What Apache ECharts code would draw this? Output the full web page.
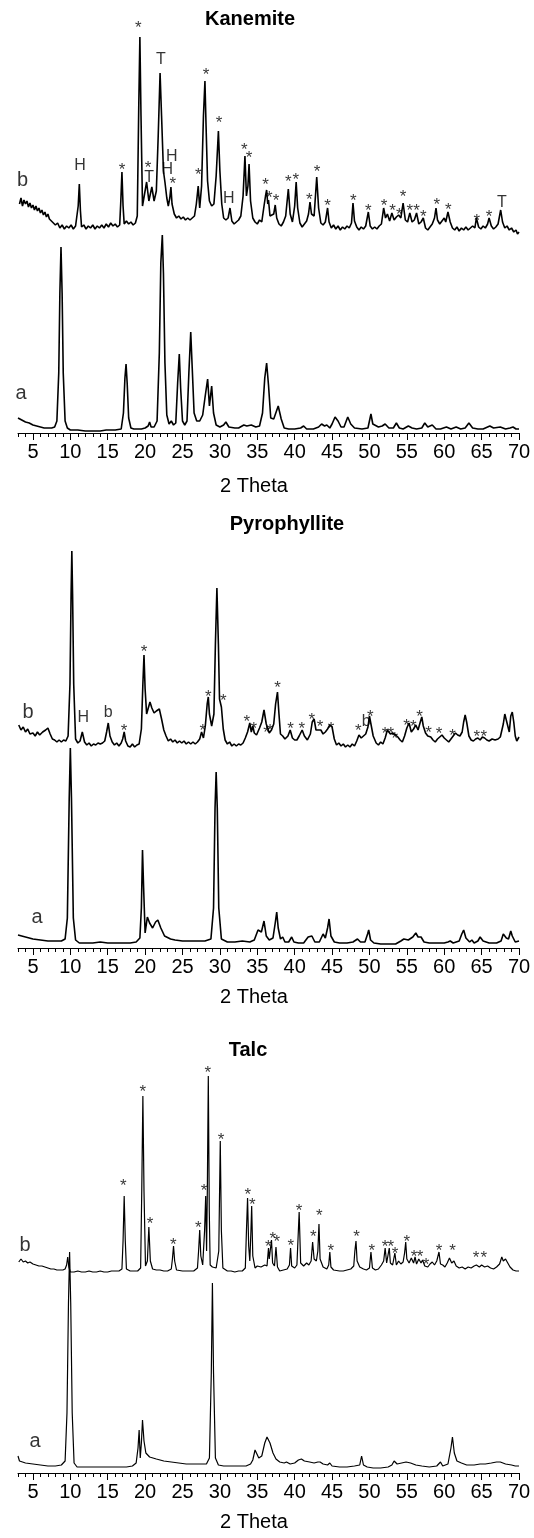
<!DOCTYPE html>
<html><head><meta charset="utf-8">
<script src="https://cdn.jsdelivr.net/npm/echarts@6/dist/echarts.min.js"></script>
<style>html,body{margin:0;padding:0;background:#fff}#c{width:534px;height:1538px}</style>
</head><body><div id="c"></div>
<script>
// 2-theta tick labels
const thetaTicks = [5,10,15,20,25,30,35,40,45,50,55,60,65,70];
const panelTitles = ['Kanemite','Pyrophyllite','Talc'];
const axisTitle = '2 Theta';

// ---------- Kanemite ----------
const kanemiteA = [[3.0,15],[3.5,13],[4,11],[4.5,10],[5,8],[5.5,7],[6,6],[6.5,5],[7,5],[7.5,5],[7.9,6],[8.2,12],[8.45,60],[8.6,140],[8.75,186],[8.9,140],[9.05,60],[9.3,12],[9.6,5],[10,3],[11,3],[12,2],[13,2],[14,2],[14.8,3],[15,5],[15.2,3],[16,3],[16.8,4],[17.1,20],[17.3,55],[17.45,69],[17.6,50],[17.8,15],[18.1,5],[18.5,4],[19,4],[19.5,4],[20,5],[20.4,7],[20.6,11],[20.8,6],[21.2,6],[21.6,12],[21.9,80],[22.1,170],[22.3,198],[22.45,160],[22.65,70],[22.9,18],[23.2,9],[23.5,12],[23.8,8],[24.1,10],[24.35,50],[24.57,79],[24.75,45],[25.0,12],[25.3,8],[25.6,12],[25.85,60],[26.1,101],[26.3,65],[26.55,20],[26.9,12],[27.3,12],[27.7,18],[28.0,35],[28.36,54],[28.6,27],[28.9,47],[29.15,20],[29.5,8],[30,6],[30.5,8],[30.8,11],[31.2,6],[32,5],[32.5,5],[33.2,8],[33.6,7],[34.2,8],[34.8,6],[35.3,7],[35.7,20],[36.0,55],[36.25,70],[36.5,48],[36.8,15],[37.2,14],[37.8,27],[38.2,14],[38.6,5],[39.2,4],[40,4],[40.8,5],[41.2,7],[41.6,4],[42.5,4],[43.2,6],[43.6,9],[44.0,7],[44.3,8],[44.7,5],[45.0,9],[45.4,16],[45.8,12],[46.2,6],[46.6,6],[47.1,16],[47.5,9],[48,5],[49,4],[49.8,5],[50.2,19],[50.45,9],[50.7,8],[51.2,6],[51.7,7],[52.1,9],[52.6,5],[53.2,5],[53.6,10],[54.0,5],[54.5,4],[55.2,7],[55.7,5],[56.3,4],[57.0,5],[57.4,10],[57.8,6],[58.4,8],[58.9,4],[59.5,4],[60.3,6],[60.9,4],[61.6,6],[62.2,4],[62.8,5],[63.3,10],[63.8,5],[64.5,4],[65.2,4],[66.1,7],[66.6,5],[67.5,6],[68.2,4],[68.8,5],[69.2,6],[69.6,4],[70,4]];
const kanemiteB = [[3.2,22],[3.4,28],[3.6,20],[3.8,26],[4.0,22],[4.2,25],[4.4,19],[4.6,23],[4.8,18],[5.0,21],[5.2,16],[5.4,20],[5.6,15],[5.8,18],[6.0,13],[6.2,16],[6.4,11],[6.6,14],[6.8,9],[7.0,12],[7.2,7],[7.4,9],[7.6,4],[7.8,6],[8.0,1],[8.3,3],[8.6,-2],[8.9,1],[9.2,-3],[9.5,0],[9.8,-2],[10.1,1],[10.4,-3],[10.7,0],[10.9,2],[11.05,20],[11.2,42],[11.35,15],[11.5,-1],[11.8,1],[12.1,-3],[12.4,0],[12.7,-2],[13.0,1],[13.3,-3],[13.6,0],[13.9,-2],[14.2,1],[14.5,-2],[14.8,2],[15.1,-1],[15.4,3],[15.7,0],[16.0,2],[16.3,-1],[16.6,1],[16.75,25],[16.9,54],[17.05,20],[17.2,2],[17.5,5],[17.8,2],[18.1,4],[18.4,1],[18.7,3],[18.95,10],[19.15,120],[19.3,189],[19.45,110],[19.65,20],[19.9,22],[20.2,44],[20.5,25],[20.9,39],[21.2,25],[21.5,35],[21.75,90],[22.0,153],[22.2,110],[22.45,55],[22.65,44],[22.9,28],[23.1,20],[23.3,28],[23.45,39],[23.6,22],[23.9,12],[24.2,8],[24.5,10],[24.8,7],[25.1,9],[25.4,6],[25.7,8],[26.0,6],[26.3,8],[26.6,10],[26.85,22],[27.1,40],[27.3,18],[27.55,40],[27.8,110],[28.0,145],[28.15,100],[28.35,45],[28.6,25],[28.9,20],[29.2,22],[29.5,50],[29.8,95],[30.0,55],[30.25,22],[30.5,8],[30.8,6],[31.1,8],[31.35,18],[31.6,5],[31.9,2],[32.2,4],[32.5,6],[32.8,10],[33.1,30],[33.35,70],[33.55,30],[33.75,40],[33.9,62],[34.1,25],[34.4,8],[34.7,4],[35.0,2],[35.3,6],[35.6,4],[35.9,20],[36.1,30],[36.25,36],[36.4,22],[36.5,26],[36.7,10],[36.9,8],[37.2,12],[37.4,21],[37.6,8],[37.9,2],[38.2,0],[38.5,4],[38.8,10],[39.15,37],[39.4,12],[39.7,4],[40.0,20],[40.2,44],[40.4,18],[40.7,3],[41.0,-1],[41.3,2],[41.6,5],[41.85,12],[42.05,24],[42.25,12],[42.6,10],[42.95,49],[43.2,18],[43.5,3],[43.8,1],[44.1,4],[44.4,18],[44.6,4],[44.9,-2],[45.2,1],[45.5,-3],[45.8,0],[46.1,-4],[46.4,-1],[46.7,-3],[47.0,0],[47.3,-2],[47.6,3],[47.8,23],[48.0,5],[48.3,-1],[48.6,-4],[48.9,-1],[49.2,-3],[49.5,0],[49.85,14],[50.1,0],[50.4,-3],[50.7,-1],[51.0,-3],[51.3,0],[51.6,2],[51.9,18],[52.15,8],[52.4,12],[52.7,5],[53.0,13],[53.3,6],[53.6,9],[53.9,11],[54.2,8],[54.5,23],[54.8,6],[55.1,4],[55.4,13],[55.7,4],[56.0,6],[56.3,13],[56.6,2],[56.9,4],[57.2,8],[57.5,-2],[57.8,-4],[58.1,-1],[58.4,2],[58.7,8],[58.9,18],[59.1,6],[59.4,2],[59.7,5],[60.0,8],[60.2,4],[60.5,14],[60.8,4],[61.1,-2],[61.4,-4],[61.7,-1],[62.0,-5],[62.3,-2],[62.6,-4],[62.9,-1],[63.2,-4],[63.5,-2],[63.8,0],[64.1,-2],[64.3,8],[64.6,-1],[64.9,-3],[65.2,0],[65.5,-2],[65.8,2],[66.0,8],[66.3,0],[66.6,-3],[66.9,-1],[67.2,2],[67.55,16],[67.8,4],[68.1,-2],[68.4,0],[68.7,-4],[69.0,-2],[69.3,-6],[69.6,-4],[69.8,-8],[70,-6]];
const kanemiteMarks = [[11.3,267,'H'],[16.9,267,'*'],[19.1,409,'*'],[20.4,269,'*'],[20.55,255,'T'],[22.1,373,'T'],[22.95,263,'H'],[23.55,276,'H'],[23.7,253,'*'],[27.1,262,'*'],[28.15,362,'*'],[29.9,314,'*'],[31.2,234,'H'],[33.25,287,'*'],[33.9,279,'*'],[36.1,252,'*'],[36.6,239,'*'],[37.5,236,'*'],[39.15,255,'*'],[40.15,257,'*'],[41.95,237,'*'],[43.0,265,'*'],[44.4,231,'*'],[47.85,236,'*'],[49.85,226,'*'],[51.95,231,'*'],[53.1,226,'*'],[54.0,222,'*'],[54.5,240,'*'],[55.4,226,'*'],[56.3,226,'*'],[57.2,220,'*'],[59.0,232,'*'],[60.55,227,'*'],[64.35,216,'*'],[66.0,220,'*'],[67.7,230,'T']];
const kanemiteTraceNames = [[3.4,38,'a'],[3.6,253,'b']];

// ---------- Pyrophyllite ----------
const pyrophylliteA = [[3,13],[3.5,12],[4,11],[5,9],[6,8],[7,7],[8,7],[8.8,7],[9.3,9],[9.6,30],[9.85,150],[10.0,200],[10.15,150],[10.4,30],[10.7,8],[11.2,5],[12,5],[13,5],[14,6],[15,5],[16,5],[17,5],[18,5],[18.8,6],[19.3,10],[19.5,40],[19.65,98],[19.8,60],[20.0,15],[20.3,31],[20.6,25],[21.0,20],[21.4,26],[21.7,28],[22.1,20],[22.6,12],[23.4,9],[24,8],[25,7],[26,7],[27,7],[28,7],[28.8,9],[29.15,40],[29.35,140],[29.5,176],[29.65,140],[29.85,40],[30.2,9],[31,6],[32,6],[33,7],[34,6],[34.6,8],[35.1,18],[35.35,20],[35.55,16],[35.9,27],[36.2,12],[36.6,8],[37.1,10],[37.4,25],[37.6,36],[37.8,20],[38.1,9],[38.4,11],[38.7,6],[39.2,6],[39.6,11],[39.9,6],[40.5,5],[41.2,5],[41.8,11],[42.05,13],[42.3,12],[42.7,6],[43.3,6],[43.8,14],[44.1,10],[44.4,20],[44.6,29],[44.85,12],[45.3,6],[46,5],[47,5],[47.8,6],[48.4,9],[48.8,6],[49.4,6],[49.75,14],[49.9,18],[50.15,8],[50.6,5],[51.5,4],[52.5,4],[53.5,4],[54.2,7],[54.6,9],[55.2,8],[55.8,11],[56.2,15],[56.5,11],[56.9,11],[57.3,6],[58,5],[59,5],[60,5],[60.5,6],[60.8,7],[61.2,5],[62.0,7],[62.35,14],[62.6,18],[62.9,10],[63.4,6],[63.7,8],[64.0,5],[64.5,7],[64.8,11],[65.2,7],[66,5],[67,5],[67.6,7],[67.9,14],[68.05,16],[68.3,10],[68.6,9],[68.9,17],[69.1,12],[69.5,6],[70,7]];
const pyrophylliteB = [[3.1,19],[3.4,14],[3.7,17],[4.0,12],[4.3,15],[4.6,10],[5.0,11],[5.3,8],[5.6,12],[5.9,9],[6.3,12],[6.7,14],[7.0,16],[7.3,10],[7.6,5],[7.9,4],[8.2,2],[8.5,4],[8.8,2],[9.1,4],[9.4,3],[9.7,8],[9.95,60],[10.1,150],[10.2,193],[10.3,150],[10.45,60],[10.7,5],[11.0,1],[11.3,3],[11.6,12],[11.9,2],[12.2,-1],[12.5,1],[12.8,-2],[13.1,0],[13.4,-1],[13.7,1],[14.0,0],[14.3,1],[14.6,3],[14.85,12],[15.07,21],[15.3,8],[15.6,2],[15.9,-1],[16.2,1],[16.5,-2],[16.8,1],[17.0,5],[17.2,12],[17.4,3],[17.7,-2],[18.0,-3],[18.3,0],[18.6,-3],[18.9,-1],[19.2,0],[19.5,15],[19.7,60],[19.85,89],[20.0,55],[20.2,30],[20.4,32],[20.65,42],[20.9,36],[21.2,31],[21.5,33],[21.9,35],[22.2,25],[22.5,14],[22.8,8],[23.1,3],[23.4,5],[23.7,2],[24.0,4],[24.3,1],[24.6,3],[24.9,1],[25.2,3],[25.5,0],[25.8,2],[26.1,0],[26.4,2],[26.7,0],[27.0,2],[27.3,5],[27.55,12],[27.8,6],[28.05,18],[28.3,40],[28.45,47],[28.6,30],[28.9,18],[29.2,30],[29.4,100],[29.6,156],[29.8,100],[29.95,45],[30.2,37],[30.45,15],[30.7,4],[31.0,0],[31.3,2],[31.6,-2],[31.9,0],[32.2,-2],[32.5,0],[32.8,-1],[33.1,1],[33.4,6],[33.7,12],[34.0,21],[34.2,12],[34.4,18],[34.6,11],[34.9,9],[35.3,16],[35.6,22],[35.9,34],[36.2,20],[36.6,11],[36.9,14],[37.2,20],[37.45,40],[37.7,52],[37.9,30],[38.1,10],[38.4,8],[38.7,5],[39.1,8],[39.4,14],[39.7,6],[40.0,4],[40.3,4],[40.6,8],[41.0,14],[41.3,8],[41.7,4],[42.1,10],[42.35,22],[42.6,25],[42.85,14],[43.1,12],[43.5,14],[43.8,10],[44.1,12],[44.4,15],[44.7,19],[45.0,17],[45.3,5],[45.6,-1],[45.9,1],[46.2,-2],[46.5,0],[46.8,-3],[47.1,-1],[47.4,-3],[47.7,0],[48.0,-2],[48.3,3],[48.6,9],[48.9,6],[49.2,8],[49.5,10],[49.8,17],[50.0,28],[50.2,26],[50.5,8],[50.9,1],[51.2,-1],[51.5,2],[51.8,0],[52.1,6],[52.4,14],[52.8,10],[53.1,11],[53.5,9],[53.8,7],[54.1,4],[54.4,2],[54.7,8],[55.0,16],[55.3,21],[55.6,12],[55.9,15],[56.2,19],[56.5,14],[56.8,22],[57.0,27],[57.2,18],[57.5,11],[57.8,8],[58.2,7],[58.5,4],[58.8,2],[59.1,5],[59.4,7],[59.7,9],[60.0,6],[60.3,4],[60.6,2],[60.9,5],[61.2,8],[61.5,11],[61.8,9],[62.1,8],[62.4,12],[62.6,22],[62.8,29],[63.0,22],[63.3,8],[63.6,4],[63.9,3],[64.2,5],[64.5,6],[64.8,4],[65.1,7],[65.4,6],[65.7,4],[66.0,3],[66.4,5],[66.8,4],[67.2,5],[67.5,7],[67.7,8],[67.9,20],[68.1,30],[68.3,32],[68.5,18],[68.7,12],[68.9,28],[69.1,32],[69.3,22],[69.5,8],[69.7,3],[69.9,1],[70,7]];
const pyrophylliteMarks = [[11.73,230,'H'],[15.07,235,'b'],[17.2,221,'*'],[19.85,300,'*'],[27.7,221,'*'],[28.45,255,'*'],[30.45,251,'*'],[33.6,230,'*'],[34.55,223,'*'],[36.25,219,'*'],[36.7,221,'*'],[37.7,264,'*'],[39.45,223,'*'],[40.95,223,'*'],[42.3,232,'*'],[43.4,225,'*'],[44.85,223,'*'],[48.5,221,'*'],[49.55,226,'b'],[50.1,235,'*'],[52.1,218,'*'],[52.85,218,'*'],[53.4,213,'*'],[54.95,226,'*'],[55.85,225,'*'],[56.7,235,'*'],[57.9,219,'*'],[59.3,218,'*'],[61.1,216,'*'],[64.35,215,'*'],[65.3,215,'*']];
const pyrophylliteTraceNames = [[5.54,29,'a'],[4.34,236,'b']];

// ---------- Talc ----------
const talcA = [[3,17],[3.2,12],[3.6,11],[4,10],[5,9],[6,8],[7,7],[8,7],[8.8,8],[9.3,12],[9.55,60],[9.75,170],[9.9,221],[10.05,170],[10.25,60],[10.5,10],[10.9,6],[11.5,6],[12.5,6],[13.5,6],[14.5,6],[15.5,6],[16.5,6],[17.5,6],[18.3,7],[18.8,10],[19.05,25],[19.2,43],[19.35,15],[19.5,30],[19.65,53],[19.85,32],[20.1,20],[20.6,16],[21.5,14],[22.5,12],[23.5,11],[24.5,10],[25.5,9],[26.5,9],[27.5,9],[28.2,9],[28.6,15],[28.85,100],[29.0,190],[29.15,100],[29.4,15],[29.8,8],[30.5,7],[31.5,7],[32.5,7],[33.5,7],[34.1,9],[34.4,13],[34.7,23],[34.95,22],[35.2,15],[35.6,17],[36.0,30],[36.3,36],[36.7,30],[37.1,20],[37.5,14],[38.0,11],[38.6,10],[38.9,11],[39.4,9],[40.0,10],[40.5,13],[40.9,14],[41.3,12],[42.0,11],[42.6,10],[43.1,11],[43.4,11],[43.8,9],[44.4,8],[44.7,10],[45.0,7],[46,6],[47,6],[48,7],[48.7,8],[48.95,17],[49.2,8],[49.7,6],[50.5,5],[51.5,5],[52.5,6],[53.0,8],[53.3,12],[53.7,9],[54.3,10],[54.9,11],[55.5,10],[56.2,8],[57.0,7],[58,6],[59.0,7],[59.5,11],[59.8,7],[60.5,9],[60.9,25],[61.1,36],[61.35,20],[61.7,12],[62.3,10],[63.0,8],[64.0,8],[64.8,9],[65.5,9],[66.3,10],[67.0,11],[67.5,11],[68.2,9],[69.0,8],[69.5,7],[70,7]];
const talcB = [[3.1,9],[3.4,12],[3.7,9],[4.0,10],[4.3,8],[4.6,9],[5.0,7],[5.4,6],[5.8,5],[6.2,5],[6.6,4],[7.0,3],[7.4,2],[7.8,2],[8.2,1],[8.6,1],[9.0,1],[9.3,2],[9.5,6],[9.65,14],[9.8,4],[10.0,-1],[10.5,-1],[11,0],[11.5,-1],[12,-1],[12.5,0],[13,-1],[13.5,-1],[14,0],[14.5,-1],[15,-1],[15.5,0],[16,0],[16.5,0],[16.9,2],[17.05,30],[17.2,75],[17.35,30],[17.5,2],[18,0],[18.5,0],[19.0,0],[19.4,3],[19.55,80],[19.7,175],[19.85,80],[20.05,5],[20.3,10],[20.5,44],[20.7,10],[21,2],[21.5,1],[22,1],[22.5,0],[23,0],[23.5,2],[23.65,12],[23.8,25],[23.95,10],[24.2,1],[25,0],[25.5,0],[26,0],[26.5,0],[27.0,3],[27.15,20],[27.3,41],[27.45,15],[27.7,6],[27.95,40],[28.1,75],[28.22,20],[28.32,80],[28.45,195],[28.58,60],[28.7,6],[29.0,4],[29.5,3],[29.85,20],[30.05,130],[30.2,40],[30.4,3],[31,0],[31.5,0],[32,-1],[32.5,0],[33,0],[33.4,3],[33.55,40],[33.7,73],[33.85,25],[34.0,10],[34.15,40],[34.25,65],[34.4,15],[34.7,3],[35.0,5],[35.5,4],[36.0,6],[36.3,5],[36.5,23],[36.6,12],[36.75,10],[36.9,31],[37.05,8],[37.3,5],[37.5,24],[37.7,4],[38.0,0],[38.5,1],[39.0,2],[39.3,6],[39.45,23],[39.6,5],[40.0,3],[40.3,6],[40.6,59],[40.8,8],[41.2,5],[41.6,8],[41.9,6],[42.2,10],[42.4,29],[42.6,12],[42.9,10],[43.1,20],[43.25,47],[43.4,12],[43.8,4],[44.3,2],[44.55,6],[44.7,19],[44.85,4],[45.2,1],[46,0],[46.5,0],[47,1],[47.5,2],[47.9,5],[48.05,20],[48.2,30],[48.35,10],[48.7,4],[49.2,2],[49.6,1],[50.0,3],[50.2,19],[50.4,3],[50.8,1],[51.2,2],[51.6,6],[51.9,10],[52.1,23],[52.3,8],[52.5,10],[52.65,23],[52.8,8],[53.1,6],[53.4,18],[53.6,6],[53.9,10],[54.2,7],[54.5,9],[54.7,18],[54.85,29],[55.0,12],[55.3,8],[55.6,13],[55.9,8],[56.1,14],[56.3,7],[56.6,12],[56.9,8],[57.1,11],[57.4,5],[57.8,4],[58.1,7],[58.4,9],[58.7,6],[59.0,10],[59.3,19],[59.5,7],[59.8,6],[60.1,4],[60.4,8],[60.7,13],[61.0,8],[61.3,10],[61.6,5],[62.0,3],[62.4,4],[62.8,2],[63.2,4],[63.6,3],[64.0,5],[64.3,6],[64.7,4],[65.0,6],[65.4,4],[65.8,5],[66.2,3],[66.6,2],[67.0,4],[67.4,7],[67.7,14],[67.9,10],[68.2,12],[68.5,8],[68.8,4],[69.2,1],[69.6,0],[70,0]];
const talcMarks = [[17.08,291,'*'],[19.68,385,'*'],[20.65,253,'*'],[23.77,232,'*'],[27.1,249,'*'],[27.87,286,'*'],[28.37,404,'*'],[30.15,337,'*'],[33.72,282,'*'],[34.33,272,'*'],[36.47,230,'*'],[37.06,238,'*'],[37.6,235,'*'],[39.47,231,'*'],[40.58,266,'*'],[42.49,240,'*'],[43.29,261,'*'],[44.82,226,'*'],[48.29,240,'*'],[50.3,226,'*'],[52.08,230,'*'],[52.84,230,'*'],[53.41,223,'*'],[54.98,235,'*'],[55.96,220,'*'],[56.76,220,'*'],[57.56,212,'*'],[59.3,226,'*'],[61.13,226,'*'],[64.25,219,'*'],[65.3,219,'*']];
const talcTraceNames = [[5.27,30,'a'],[3.94,228,'b']];

// ---------- layout (not data) ----------
const FONT = '"Liberation Sans", Arial, Helvetica, sans-serif';
const panels = [
  {title: panelTitles[0], a: kanemiteA, b: kanemiteB, marks: kanemiteMarks, names: kanemiteTraceNames, bShift: 207, axisY: 433, height: 430, titleX: 250, titleY: 19.5, nameY: 486, lw: 1.6},
  {title: panelTitles[1], a: pyrophylliteA, b: pyrophylliteB, marks: pyrophylliteMarks, names: pyrophylliteTraceNames, bShift: 204, axisY: 948, height: 430, titleX: 287, titleY: 524, nameY: 997, lw: 1.6},
  {title: panelTitles[2], a: talcA, b: talcB, marks: talcMarks, names: talcTraceNames, bShift: 202, axisY: 1473, height: 440, titleX: 248, titleY: 1050.5, nameY: 1522, lw: 1.2}
];

const grids = [], xAxes = [], yAxes = [], series = [], graphics = [];
panels.forEach((p, i) => {
  grids.push({left: 18, right: 15, top: p.axisY - p.height, height: p.height, containLabel: false});
  xAxes.push({
    type: 'value', gridIndex: i, position: 'bottom', min: 3, max: 70, interval: 5,
    axisLine: {show: true, onZero: false, lineStyle: {color: '#000', width: 1}},
    axisTick: {show: true, length: 7, lineStyle: {color: '#000', width: 1}, customValues: thetaTicks},
    axisLabel: {show: true, customValues: thetaTicks, color: '#000', fontSize: 20, fontFamily: FONT, margin: 9},
    splitLine: {show: false}
  });
  xAxes.push({
    type: 'value', gridIndex: i, position: 'bottom', min: 3, max: 70, interval: 1,
    axisLine: {show: false, onZero: false},
    axisTick: {show: true, length: 4, lineStyle: {color: '#000', width: 1}},
    axisLabel: {show: false}, splitLine: {show: false}
  });
  yAxes.push({type: 'value', gridIndex: i, min: 0, max: p.height, show: false});
  const base = {type: 'line', xAxisIndex: 2 * i, yAxisIndex: i, showSymbol: false, symbol: 'none', silent: true,
    lineStyle: {color: '#000', width: p.lw}, clip: false};
  series.push(Object.assign({}, base, {name: p.title + ' a', data: p.a}));
  series.push(Object.assign({}, base, {name: p.title + ' b', data: p.b.map(d => [d[0], d[1] + p.bShift])}));
  const markData = p.marks.map(m => {
    const star = m[2] === '*';
    return {value: [m[0], m[1]], label: {formatter: m[2], fontSize: star ? 17 : 16, offset: star ? [0, 4] : [0, 0]}};
  }).concat(p.names.map(n => ({value: [n[0], n[1]], label: {formatter: n[2], fontSize: 20, offset: n[2] === 'a' ? [0, -2] : [0, 0]}})));
  series.push({type: 'scatter', xAxisIndex: 2 * i, yAxisIndex: i, symbolSize: 0, silent: true, clip: false,
    label: {show: true, position: 'inside', color: '#000', fontFamily: FONT},
    data: markData});
  graphics.push({type: 'text', x: p.titleX, y: p.titleY, style: {text: p.title, font: 'bold 20px ' + FONT, fill: '#000', textAlign: 'center', textVerticalAlign: 'middle', verticalAlign: 'middle'}});
  graphics.push({type: 'text', x: 254, y: p.nameY, style: {text: axisTitle, font: '20px ' + FONT, fill: '#000', textAlign: 'center', textVerticalAlign: 'middle', verticalAlign: 'middle'}});
});

const chart = echarts.init(document.getElementById('c'), null, {renderer: 'canvas'});
chart.setOption({
  animation: false, backgroundColor: '#fff',
  grid: grids, xAxis: xAxes, yAxis: yAxes, series: series, graphic: graphics
});
</script></body></html>
